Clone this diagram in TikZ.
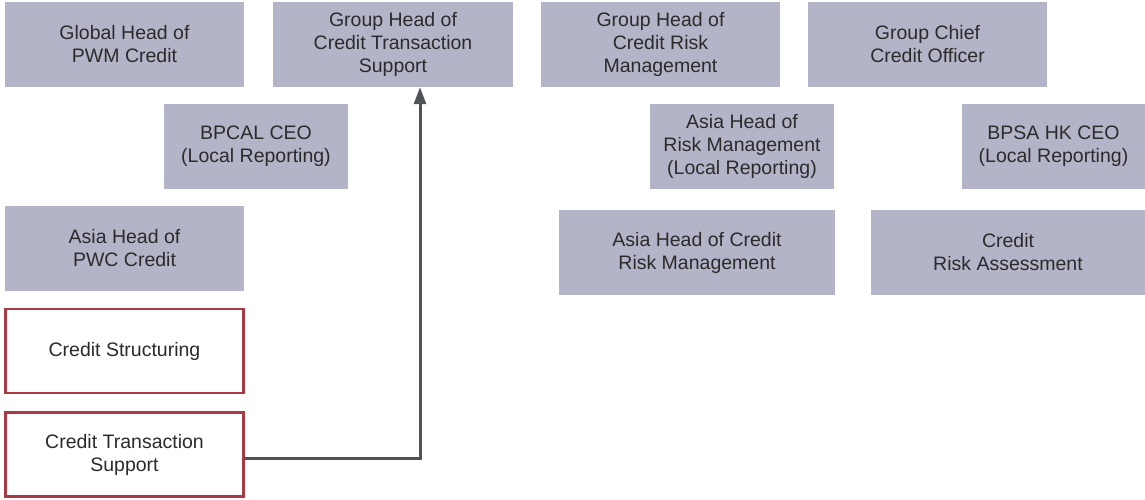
\documentclass[tikz,border=0pt]{standalone}
\usepackage{fontspec}
\setmainfont{Liberation Sans}
\usetikzlibrary{arrows.meta}
\definecolor{boxfill}{HTML}{B4B4C8}
\definecolor{boxred}{HTML}{A83A43}
\definecolor{txt}{HTML}{2B2B2B}
\definecolor{arrowc}{HTML}{4F5358}
\tikzset{
  base/.style={rectangle, inner sep=0pt, align=center, text=txt,
    font=\fontsize{19.5pt}{23pt}\selectfont},
  gbox/.style={base, fill=boxfill},
  rbox/.style={base, fill=white, draw=boxred, line width=2.5pt},
  conn/.style={draw=arrowc, line width=3pt, -{Triangle[length=17pt,width=12pt]}}
}
\begin{document}
\begin{tikzpicture}[x=1pt,y=-1pt]
\useasboundingbox (0,0) rectangle (1145,499);
\node[gbox, minimum width=239pt, minimum height=85pt] (g1) at (124.5,44.5) {Global Head of\\PWM Credit};
\node[gbox, minimum width=240pt, minimum height=85pt] (g2) at (393,44.5) {Group Head of\\Credit Transaction\\Support};
\node[gbox, minimum width=239pt, minimum height=85pt] (g3) at (660.5,44.5) {Group Head of\\Credit Risk\\Management};
\node[gbox, minimum width=239pt, minimum height=85pt] (g4) at (927.5,44.5) {Group Chief\\Credit Officer};
\node[gbox, minimum width=184pt, minimum height=85pt] (b1) at (256,146.5) {BPCAL CEO\\(Local Reporting)};
\node[gbox, minimum width=184pt, minimum height=85pt] (b2) at (742,146.5) {Asia Head of\\Risk Management\\(Local Reporting)};
\node[gbox, minimum width=183pt, minimum height=85pt] (b3) at (1053.5,146.5) {BPSA HK CEO\\(Local Reporting)};
\node[gbox, minimum width=239pt, minimum height=85pt] (a1) at (124.5,248.5) {Asia Head of\\PWC Credit};
\node[gbox, minimum width=276pt, minimum height=85pt] (a2) at (697,252.5) {Asia Head of Credit\\Risk Management};
\node[gbox, minimum width=274pt, minimum height=85pt] (a3) at (1008,252.5) {Credit\\Risk Assessment};
\node[rbox, minimum width=238pt, minimum height=84pt] (cs) at (124.5,351) {Credit Structuring};
\node[rbox, minimum width=238pt, minimum height=84pt] (cts) at (124.5,454.5) {Credit Transaction\\Support};
\draw[conn] ([yshift=-3.5pt]cts.east) -| ([xshift=27pt]g2.south);
\end{tikzpicture}
\end{document}
